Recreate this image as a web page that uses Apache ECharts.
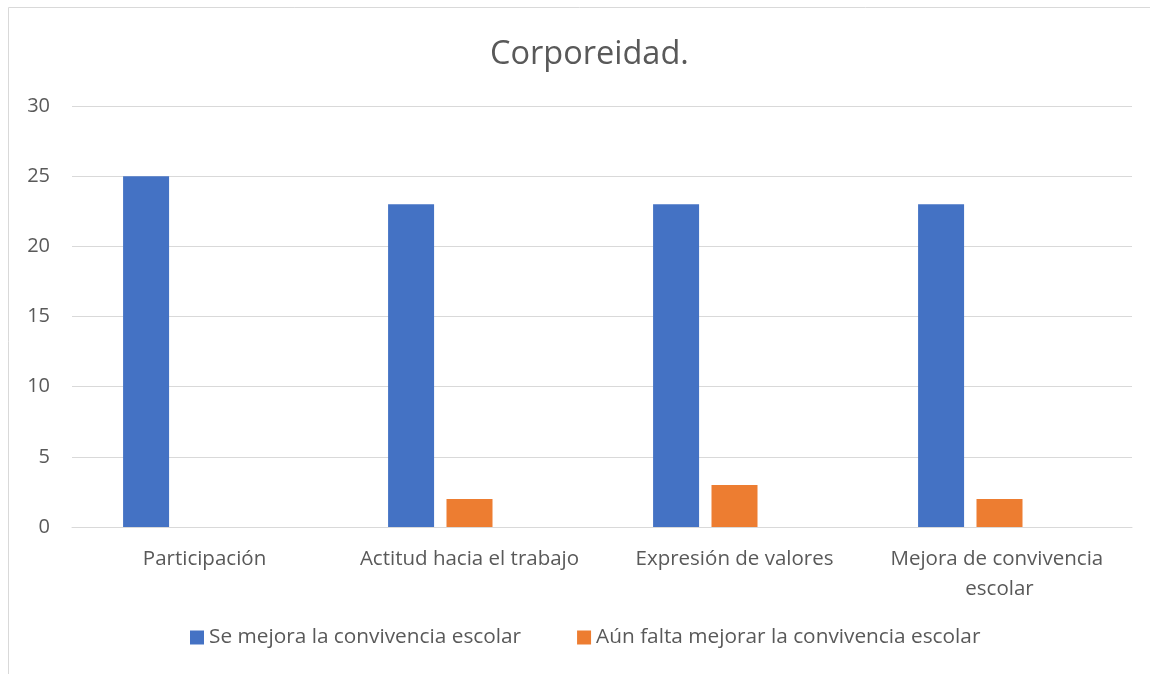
<!DOCTYPE html>
<html lang="es">
<head>
	<meta charset="utf-8">
	<title>Corporeidad.</title>
	<script src="https://cdn.jsdelivr.net/npm/echarts@6/dist/echarts.min.js"></script>
	<style>
		html, body { margin: 0; padding: 0; width: 100%; height: 100%; background: #fff; }
		#chart { width: 1150px; height: 674px; }
	</style>
</head>
<body>
	<div id="chart"></div>
	<script>
		// categorias del eje x
		var categorias = ['Participación', 'Actitud hacia el trabajo', 'Expresión de valores', 'Mejora de convivencia escolar'];
		// series
		var seMejora = [25, 23, 23, 23];
		var aunFalta = [0, 2, 3, 2];
		var serieVacia = [null, null, null, null]; // tercera serie sin datos (ocupa hueco como en el original)
		var nombres = ['Se mejora la convivencia escolar', 'Aún falta mejorar la convivencia escolar'];

		var fuente = '"Open Sans", "Noto Sans", sans-serif';
		var chart = echarts.init(document.getElementById('chart'));

		var option = {
			animation: false,
			textStyle: { fontFamily: fuente },
			title: {
				text: 'Corporeidad.',
				left: 485,
				top: 33,
				textStyle: { fontFamily: fuente, fontSize: 32.5, fontWeight: 'normal', color: '#595959' }
			},
			graphic: [{
				type: 'rect',
				shape: { x: 8.5, y: 7.5, width: 1160, height: 700 },
				style: { fill: 'none', stroke: '#d9d9d9', lineWidth: 1 },
				silent: true
			}],
			legend: {
				data: nombres,
				bottom: 21,
				left: 185,
				itemWidth: 14,
				itemHeight: 14,
				itemGap: 56,
				icon: 'rect',
				textStyle: { fontFamily: fuente, fontSize: 20.8, color: '#595959' }
			},
			grid: { left: 72, right: 18, top: 106, bottom: 147 },
			xAxis: {
				type: 'category',
				data: categorias,
				axisLine: { lineStyle: { color: '#d9d9d9' } },
				axisTick: { show: false },
				axisLabel: {
					interval: 0,
					margin: 17,
					fontSize: 20.5,
					lineHeight: 30,
					color: '#595959',
					width: 250,
					overflow: 'break'
				}
			},
			yAxis: {
				type: 'value',
				min: 0,
				max: 30,
				interval: 5,
				axisLine: { show: false },
				axisTick: { show: false },
				splitLine: { lineStyle: { color: '#d9d9d9' } },
				axisLabel: { fontSize: 20, color: '#595959', margin: 22 }
			},
			series: [
				{ name: nombres[0], type: 'bar', data: seMejora, barWidth: 46, barGap: '27%', itemStyle: { color: '#4472C4' } },
				{ name: nombres[1], type: 'bar', data: aunFalta, barWidth: 46, barGap: '27%', itemStyle: { color: '#ED7D31' } },
				{ name: 'vacia', type: 'bar', data: serieVacia, barWidth: 46, barGap: '27%', itemStyle: { color: '#A5A5A5' } }
			]
		};
		chart.setOption(option);
	</script>
</body>
</html>
